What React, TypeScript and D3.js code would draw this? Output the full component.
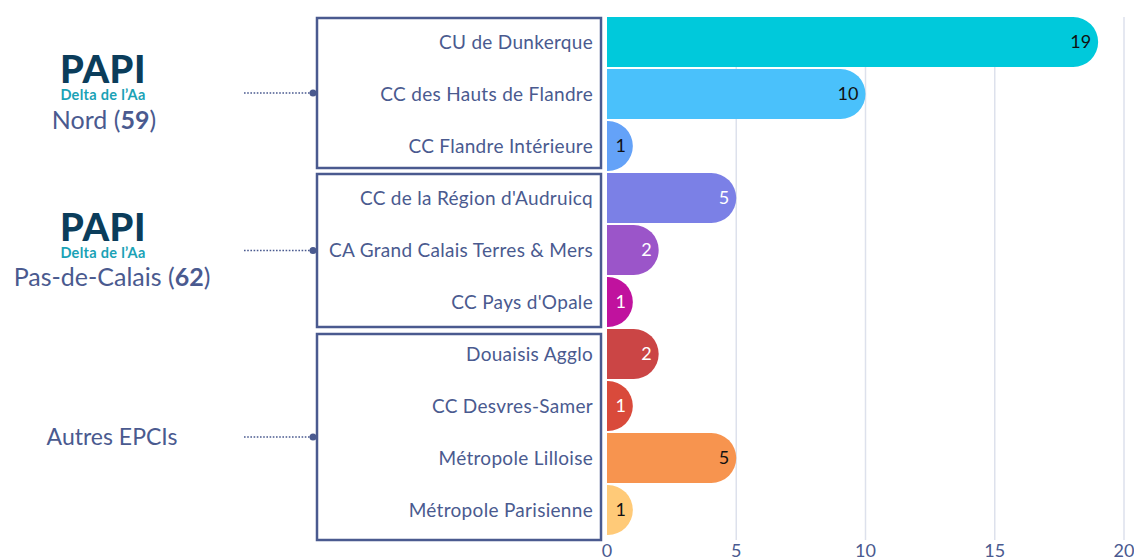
import React from 'react';
import * as d3 from 'd3';

const categories = [
  'CU de Dunkerque',
  'CC des Hauts de Flandre',
  'CC Flandre Intérieure',
  "CC de la Région d'Audruicq",
  'CA Grand Calais Terres & Mers',
  "CC Pays d'Opale",
  'Douaisis Agglo',
  'CC Desvres-Samer',
  'Métropole Lilloise',
  'Métropole Parisienne',
];
const values = [19, 10, 1, 5, 2, 1, 2, 1, 5, 1];
const barColors = [
  '#00c9db', '#4ac1fb', '#64a2f8', '#7b80e6', '#9b55c9',
  '#c0129e', '#cb4545', '#d94a3b', '#f7944f', '#ffca78',
];
const labelColors = ['#111', '#111', '#111', '#fff', '#fff', '#fff', '#fff', '#fff', '#111', '#111'];
const xTicks = [0, 5, 10, 15, 20];

const groupNames = ['Nord', 'Pas-de-Calais', 'Autres EPCIs'];
const groupCodes = ['59', '62', ''];

// layout of the group frames (pixels)
const boxTop = [18, 174, 334];
const boxBottom = [168, 327, 540];
const groupCx = [104, 112, 112];

const W = 1134;
const H = 559;
const ink = '#4a5a8f';
const font = 'Lato, "Open Sans", sans-serif';

export default function App() {
  const x = d3.scaleLinear().domain([0, 20]).range([607, 1124]);
  const y = d3.scaleBand<number>()
    .domain(d3.range(categories.length))
    .range([16, 536])
    .paddingInner(0.04)
    .paddingOuter(0.02);

  const barPath = (v: number, i: number) => {
    const x0 = x(0);
    const x1 = x(v);
    const top = y(i) as number;
    const h = y.bandwidth();
    const r = Math.min(h / 2, x1 - x0);
    return `M${x0},${top}H${x1 - r}A${r},${h / 2} 0 0 1 ${x1 - r},${top + h}H${x0}Z`;
  };

  return (
    <div style={{ position: 'fixed', left: 0, top: 0 }}>
      <svg width={W} height={H} style={{ display: 'block', fontFamily: font }}>
        <rect width={W} height={H} fill="#fff" />
        {/* grid */}
        {xTicks.filter(t => t > 0).map(t => (
          <line key={t} x1={x(t)} x2={x(t)} y1={17} y2={540} stroke="#dde1ec" strokeWidth={1.5} />
        ))}
        {/* bars */}
        {values.map((v, i) => (
          <g key={i}>
            <path d={barPath(v, i)} fill={barColors[i]} />
            <text
              x={x(v) - 7}
              y={(y(i) as number) + y.bandwidth() / 2}
              dy="0.35em"
              textAnchor="end"
              fontSize={18}
              fill={labelColors[i]}
            >
              {v}
            </text>
          </g>
        ))}
        {/* category labels */}
        {categories.map((c, i) => (
          <text
            key={c}
            x={593}
            y={(y(i) as number) + y.bandwidth() / 2}
            dy="0.35em"
            textAnchor="end"
            fontSize={19}
            letterSpacing={0.3}
            fill={ink}
          >
            {c}
          </text>
        ))}
        {/* x axis ticks */}
        {xTicks.map(t => (
          <text key={t} x={x(t)} y={551} dy="0.35em" textAnchor="middle" fontSize={18} fill={ink}>
            {t}
          </text>
        ))}
        {/* groups */}
        {groupNames.map((name, gi) => {
          const top = boxTop[gi];
          const bottom = boxBottom[gi];
          const mid = (top + bottom) / 2;
          const code = groupCodes[gi];
          const logo = code !== '';
          return (
            <g key={name}>
              <rect x={317} y={top} width={284} height={bottom - top} fill="none" stroke={ink} strokeWidth={2.5} />
              <line x1={244} x2={313} y1={mid} y2={mid} stroke={ink} strokeWidth={1.6} strokeDasharray="1.6 1.6" />
              <circle cx={313} cy={mid} r={3.5} fill={ink} />
              {logo && (
                <g>
                  <text x={103} y={mid - 10} textAnchor="middle" fontSize={38} fontWeight={900} fill="#0b3d5b" letterSpacing={0.5}>
                    PAPI
                  </text>
                  <text x={103} y={mid + 7} textAnchor="middle" fontSize={14.5} fontWeight={700} fill="#1aa2b6" letterSpacing={0.3}>
                    Delta de l’Aa
                  </text>
                </g>
              )}
              <text
                x={groupCx[gi]}
                y={logo ? mid + 27 : mid}
                dy="0.35em"
                textAnchor="middle"
                fontSize={logo ? 25 : 23}
                fill={ink}
              >
                {logo ? (
                  <>
                    {name} (<tspan fontWeight={700}>{code}</tspan>)
                  </>
                ) : (
                  name
                )}
              </text>
            </g>
          );
        })}
      </svg>
    </div>
  );
}
